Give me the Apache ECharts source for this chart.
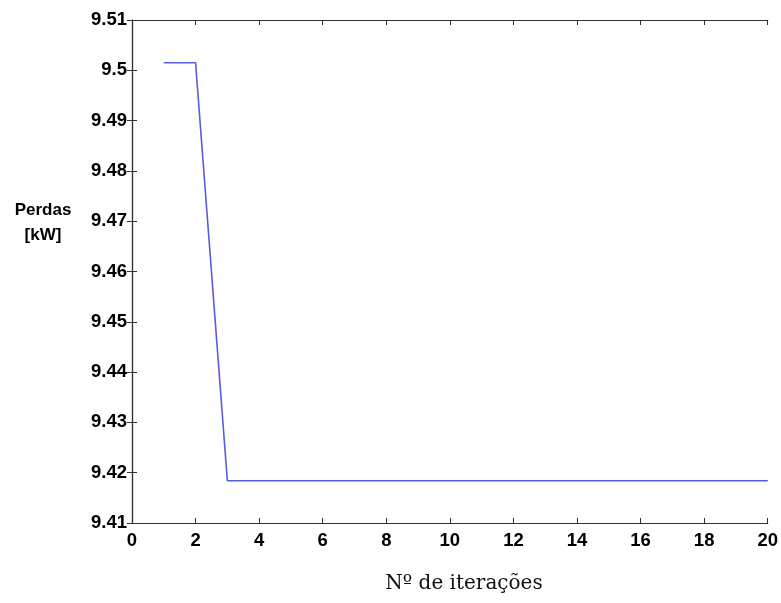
<!DOCTYPE html>
<html>
<head>
<meta charset="utf-8">
<script src="https://cdn.jsdelivr.net/npm/echarts@6/dist/echarts.min.js"></script>
<style>
  html, body { margin: 0; padding: 0; background: #fff; }
  #chart { width: 781px; height: 603px; }
</style>
</head>
<body>
<div id="chart"></div>
<script>
// Losses per iteration of the optimisation run
const iterations = [1, 2, 3, 4, 5, 6, 7, 8, 9, 10, 11, 12, 13, 14, 15, 16, 17, 18, 19, 20];
const losses = [9.5015, 9.5015, 9.4184, 9.4184, 9.4184, 9.4184, 9.4184, 9.4184, 9.4184, 9.4184,
                9.4184, 9.4184, 9.4184, 9.4184, 9.4184, 9.4184, 9.4184, 9.4184, 9.4184, 9.4184];
const xTitle = 'Nº de iterações';
const yTitle = 'Perdas\n[kW]';

const chart = echarts.init(document.getElementById('chart'));
const tickFont = { color: '#000', fontFamily: 'Arial, Liberation Sans, sans-serif', fontWeight: 'bold', fontSize: 18.5 };
const axisLine = { show: true, lineStyle: { color: '#333', width: 1.2 } };
const axisTick = { show: true, inside: true, length: 5, lineStyle: { color: '#333', width: 1 } };

chart.setOption({
  animation: false,
  backgroundColor: '#fff',
  grid: { left: 132, top: 20, right: 13, bottom: 80, containLabel: false },
  xAxis: [
    {
      type: 'value', min: 0, max: 20, interval: 2, position: 'bottom',
      axisLine, axisTick, splitLine: { show: false },
      axisLabel: Object.assign({ margin: 8 }, tickFont)
    },
    {
      type: 'value', min: 0, max: 20, interval: 2, position: 'top',
      axisLine, axisTick, axisLabel: { show: false }, splitLine: { show: false }
    }
  ],
  yAxis: [
    {
      type: 'value', min: 9.41, max: 9.51, interval: 0.01, position: 'left',
      axisLine, axisTick, splitLine: { show: false },
      axisLabel: Object.assign({ margin: 5, formatter: v => String(+v.toFixed(2)) }, tickFont)
    },
    {
      type: 'value', min: 9.41, max: 9.51, interval: 0.01, position: 'right',
      axisLine, axisTick, axisLabel: { show: false }, splitLine: { show: false }
    }
  ],
  graphic: [
    {
      type: 'text', x: 43, y: 198,
      style: {
        text: yTitle, fill: '#000', align: 'center',
        font: 'bold 17px Arial, Liberation Sans, sans-serif', lineHeight: 25
      }
    },
    {
      type: 'text', x: 464, y: 584,
      style: {
        text: xTitle, fill: '#111', align: 'center', verticalAlign: 'middle',
        font: '20px DejaVu Serif, serif'
      }
    }
  ],
  series: [{
    type: 'line',
    data: iterations.map((it, i) => [it, losses[i]]),
    showSymbol: false,
    lineStyle: { color: '#5a5ae0', width: 1.6 }
  }]
});
</script>
</body>
</html>
